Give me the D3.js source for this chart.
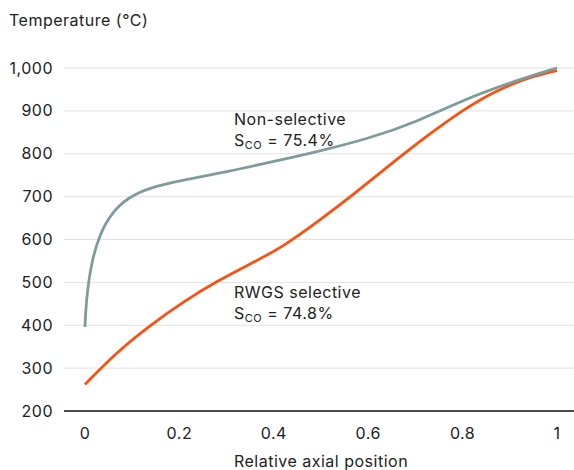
<!DOCTYPE html>
<html>
<head>
<meta charset="utf-8">
<style>
  body { margin: 0; background: #fff; }
  svg text { font-family: Inter, "Noto Sans", sans-serif; fill: #222; letter-spacing: 0.5px; }
  .grid line { stroke: #e2e2e2; stroke-width: 1; }
</style>
</head>
<body>
<svg width="574" height="470"></svg>
<script src="https://d3js.org/d3.v7.min.js"></script>
<script>
// data
var xTicks = [0, 0.2, 0.4, 0.6, 0.8, 1];
var yTicks = [200, 300, 400, 500, 600, 700, 800, 900, 1000];

var nonSelX = [0, 0.002, 0.012, 0.03, 0.055, 0.09, 0.14, 0.2, 0.3, 0.4, 0.5, 0.6, 0.7, 0.8, 0.9, 1];
var nonSelY = [396, 450, 540, 610, 660, 698, 722, 737, 758, 782, 807, 835, 873, 925, 966, 1000];

var rwgsX = [0, 0.07, 0.138, 0.21, 0.28, 0.35, 0.42, 0.5, 0.57, 0.646, 0.72, 0.8, 0.87, 0.94, 1];
var rwgsY = [262, 340, 400, 456, 503, 543, 583, 647, 706, 774, 838, 902, 947, 978, 994];

var svg = d3.select("svg");

var x = d3.scaleLinear().domain([0, 1]).range([85, 557]);
var y = d3.scaleLinear().domain([200, 1000]).range([411, 68]);

// gridlines
svg.append("g").attr("class", "grid")
  .selectAll("line")
  .data(yTicks.filter(function(d) { return d > 200; }))
  .enter().append("line")
  .attr("x1", 64).attr("x2", 574)
  .attr("y1", function(d) { return y(d); })
  .attr("y2", function(d) { return y(d); });

// y tick labels
svg.append("g")
  .selectAll("text")
  .data(yTicks)
  .enter().append("text")
  .attr("x", 53)
  .attr("y", function(d) { return y(d); })
  .attr("dy", "0.35em")
  .attr("text-anchor", "end")
  .attr("font-size", 16)
  .text(function(d) { return d3.format(",")(d); });

// x axis line
svg.append("line")
  .attr("x1", 64).attr("x2", 574)
  .attr("y1", y(200)).attr("y2", y(200))
  .attr("stroke", "#111").attr("stroke-width", 1.5);

// x tick labels
svg.append("g")
  .selectAll("text")
  .data(xTicks)
  .enter().append("text")
  .attr("x", function(d) { return x(d); })
  .attr("y", 439)
  .attr("text-anchor", "middle")
  .attr("font-size", 16)
  .text(function(d) { return d; });

// titles
svg.append("text").attr("x", 9).attr("y", 26).attr("font-size", 16).text("Temperature (°C)");
svg.append("text").attr("x", 321).attr("y", 467).attr("text-anchor", "middle")
  .attr("font-size", 16).text("Relative axial position");

var line = d3.line()
  .x(function(d) { return x(d[0]); })
  .y(function(d) { return y(d[1]); })
  .curve(d3.curveBasis);

svg.append("path")
  .datum(d3.zip(rwgsX, rwgsY))
  .attr("fill", "none")
  .attr("stroke", "#ff4f0f")
  .attr("stroke-width", 2.8)
  .attr("d", line);

svg.append("path")
  .datum(d3.zip(nonSelX, nonSelY))
  .attr("fill", "none")
  .attr("stroke", "#7d9c9b")
  .attr("stroke-width", 2.8)
  .attr("d", line);

// annotations
function label(x0, y0, title, val) {
  svg.append("text").attr("x", x0).attr("y", y0).attr("font-size", 16).text(title);
  var t = svg.append("text").attr("x", x0).attr("y", y0 + 21).attr("font-size", 16);
  t.append("tspan").text("S");
  t.append("tspan").attr("font-size", 11).attr("dy", 3).text("CO");
  t.append("tspan").attr("dy", -3).text(" = " + val);
}
label(234, 125, "Non-selective", "75.4%");
label(234, 298, "RWGS selective", "74.8%");
</script>
</body>
</html>
